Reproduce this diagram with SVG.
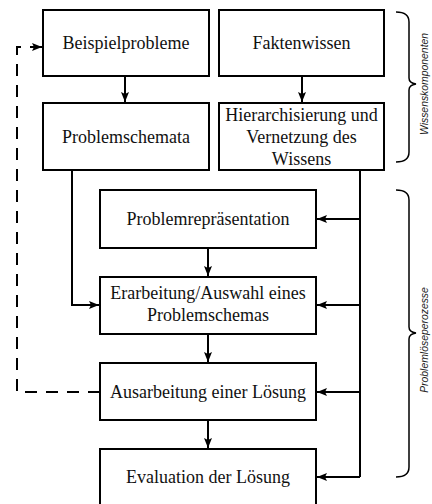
<svg xmlns="http://www.w3.org/2000/svg" width="432" height="504" viewBox="0 0 432 504">
<style>
.box{fill:#fff;stroke:#000;stroke-width:2}
.t{font-family:"Liberation Serif",serif;font-size:18px;fill:#111;text-anchor:middle}
.c{fill:none;stroke:#000;stroke-width:2}
.d{fill:none;stroke:#000;stroke-width:2;stroke-dasharray:12 9}
.br{fill:none;stroke:#000;stroke-width:1.5}
.lab{font-family:"Liberation Sans",sans-serif;font-style:italic;font-size:10.4px;fill:#222;text-anchor:middle}
</style>
<defs>
<marker id="ah" markerUnits="userSpaceOnUse" markerWidth="12" markerHeight="10" refX="10" refY="4" orient="auto">
<path d="M0,0 L10,4 L0,8 L2,4 Z" fill="#000"/>
</marker>
</defs>
<g id="connectors">
<path class="c" d="M125,76 V102" marker-end="url(#ah)"/>
<path class="c" d="M302,76 V102" marker-end="url(#ah)"/>
<path class="c" d="M72,170 V305 H99" marker-end="url(#ah)"/>
<path class="c" d="M360,170 V477"/>
<path class="c" d="M360,219 H317" marker-end="url(#ah)"/>
<path class="c" d="M360,305 H317" marker-end="url(#ah)"/>
<path class="c" d="M360,392 H317" marker-end="url(#ah)"/>
<path class="c" d="M360,477 H317" marker-end="url(#ah)"/>
<path class="c" d="M208,248 V276" marker-end="url(#ah)"/>
<path class="c" d="M208,334 V362" marker-end="url(#ah)"/>
<path class="c" d="M208,420 V448" marker-end="url(#ah)"/>
<path class="d" d="M100,392 H17 V47 H42" marker-end="url(#ah)"/>
</g>
<g id="beispielprobleme"><rect class="box" x="43" y="10" width="166" height="66"/><text class="t" x="126" y="49">Beispielprobleme</text></g>
<g id="faktenwissen"><rect class="box" x="219" y="10" width="165" height="66"/><text class="t" x="301.5" y="49">Faktenwissen</text></g>
<g id="problemschemata"><rect class="box" x="43" y="103" width="166" height="67"/><text class="t" x="126" y="143">Problemschemata</text></g>
<g id="hierarchisierung"><rect class="box" x="219" y="103" width="165" height="67"/><text class="t" x="301.5" y="121">Hierarchisierung und</text><text class="t" x="301.5" y="143">Vernetzung des</text><text class="t" x="301.5" y="165">Wissens</text></g>
<g id="problemrepraesentation"><rect class="box" x="100" y="190" width="216" height="58"/><text class="t" x="208" y="225">Problemrepräsentation</text></g>
<g id="erarbeitung"><rect class="box" x="100" y="277" width="216" height="57"/><text class="t" x="208" y="299">Erarbeitung/Auswahl eines</text><text class="t" x="208" y="321">Problemschemas</text></g>
<g id="ausarbeitung"><rect class="box" x="100" y="363" width="216" height="57"/><text class="t" x="208" y="398">Ausarbeitung einer Lösung</text></g>
<g id="evaluation"><rect class="box" x="100" y="449" width="216" height="62"/><text class="t" x="208" y="483">Evaluation der Lösung</text></g>
<g id="brace-wissen">
<path class="br" d="M396,12 Q409,12 409,22 V78 Q409,83 416,84 Q409,85 409,90 V152 Q409,162 396,162"/>
<text class="lab" transform="translate(428,84) rotate(-90)">Wissenskomponenten</text>
</g>
<g id="brace-prozesse">
<path class="br" d="M396,190 Q409,190 409,200 V327 Q409,332 416,333 Q409,334 409,339 V467 Q409,477 396,477"/>
<text class="lab" transform="translate(428,340) rotate(-90)">Problemlöseperozesse</text>
</g>
</svg>
